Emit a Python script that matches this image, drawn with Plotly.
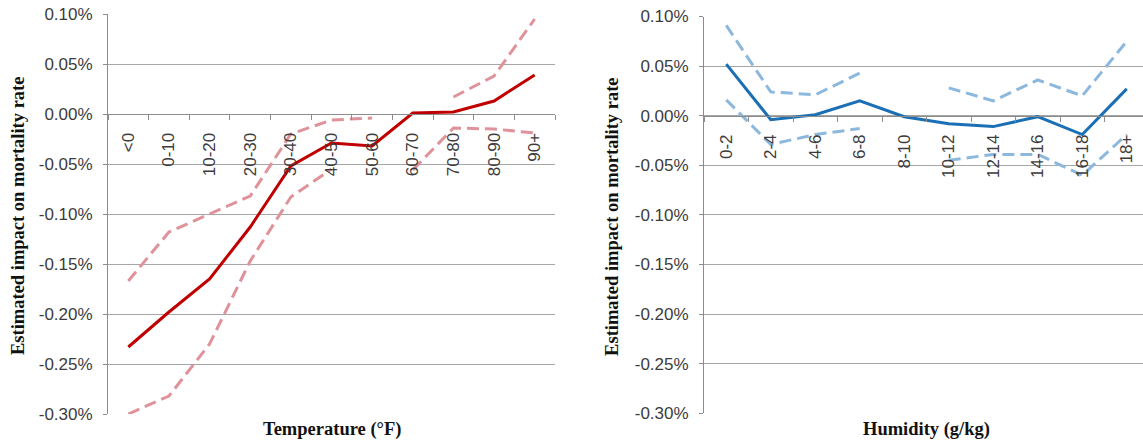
import plotly.graph_objects as go

W, H = 1143, 444

# ---------------- data ----------------
temp_cats = ["<0", "0-10", "10-20", "20-30", "30-40", "40-50", "50-60",
             "60-70", "70-80", "80-90", "90+"]
temp_est = [-0.233, -0.198, -0.165, -0.113, -0.052, -0.029, -0.032,
            0.001, 0.002, 0.013, 0.039]
temp_upper = [-0.167, -0.118, -0.100, -0.082, -0.020, -0.006, -0.004,
              None, 0.017, 0.038, 0.095]
temp_lower = [-0.300, -0.282, -0.230, -0.147, -0.083, -0.055, None,
              -0.056, -0.014, -0.015, -0.019]

hum_cats = ["0-2", "2-4", "4-6", "6-8", "8-10", "10-12", "12-14",
            "14-16", "16-18", "18+"]
hum_est = [0.052, -0.004, 0.001, 0.015, -0.001, -0.008, -0.011,
           -0.001, -0.019, 0.027]
hum_upper = [0.091, 0.024, 0.021, 0.043, None, 0.028, 0.015,
             0.036, 0.020, 0.075]
hum_lower = [0.016, -0.029, -0.019, -0.013, None, -0.045, -0.039,
             -0.039, -0.060, -0.019]

y_tickvals = [0.10, 0.05, 0.00, -0.05, -0.10, -0.15, -0.20, -0.25, -0.30]
y_ticktext = ["0.10%", "0.05%", "0.00%", "-0.05%", "-0.10%", "-0.15%",
              "-0.20%", "-0.25%", "-0.30%"]

y_title = "Estimated impact on mortality rate"
temp_title = "Temperature (\u00b0F)"
hum_title = "Humidity (g/kg)"

# ---------------- styles ----------------
RED = "#C00000"
RED_D = "#E0929A"
BLUE = "#1B6FB5"
BLUE_D = "#8DB8DE"
GRID = "#A6A6A6"
AXIS = "#8C8C8C"
TICKFONT = dict(family="Liberation Sans", size=17, color="#3C3C3C")
TITLEFONT = dict(family="Liberation Serif", size=18.5, color="#111111")
DASH = "12px,6px"

fig = go.Figure()

def add(x, y, color, dash, xa, ya):
    fig.add_trace(go.Scatter(
        x=x, y=y, mode="lines", xaxis=xa, yaxis=ya,
        line=dict(color=color, width=3, dash=dash),
        connectgaps=False, showlegend=False, hoverinfo="skip"))

add(temp_cats, temp_upper, RED_D, DASH, "x", "y")
add(temp_cats, temp_lower, RED_D, DASH, "x", "y")
add(temp_cats, temp_est, RED, "solid", "x", "y")
add(hum_cats, hum_upper, BLUE_D, DASH, "x2", "y2")
add(hum_cats, hum_lower, BLUE_D, DASH, "x2", "y2")
add(hum_cats, hum_est, BLUE, "solid", "x2", "y2")

# pixel geometry -> paper fractions
def fx(px):
    return px / W

def fy(py):
    return (H - py) / H

L1, R1 = 108, 555
T1, B1 = 14, 414
L2 = 704
CAT2 = 44.5
T2, B2 = 16.5, 413.3

def zero_pos(t, b):
    # y position (px) of value 0 in range [-0.30, 0.10]
    return t + (b - t) * 0.10 / 0.40

xcommon = dict(
    type="category", showgrid=False, showline=True, linecolor=AXIS,
    linewidth=1, ticks="outside", ticklen=5, tickcolor=AXIS,
    tickson="boundaries", tickangle=-90, tickfont=TICKFONT,
    ticklabelstandoff=11,
    anchor="free", automargin=False, zeroline=False, fixedrange=True)

ycommon = dict(
    range=[-0.30, 0.10], tickvals=y_tickvals, ticktext=y_ticktext,
    showgrid=True, gridcolor=GRID, gridwidth=1, showline=True,
    linecolor=AXIS, linewidth=1, ticks="outside", ticklen=4,
    tickcolor=AXIS, tickfont=TICKFONT, ticklabelstandoff=7,
    zeroline=False, automargin=False, fixedrange=True)

fig.update_layout(
    width=W, height=H, autosize=False,
    margin=dict(l=0, r=0, t=0, b=0, pad=0),
    paper_bgcolor="white", plot_bgcolor="white",
    xaxis=dict(xcommon, domain=[fx(L1), fx(R1)], range=[-0.5, 10.5],
               position=fy(zero_pos(T1, B1))),
    yaxis=dict(ycommon, domain=[fy(B1), fy(T1)], anchor="x"),
    xaxis2=dict(xcommon, domain=[fx(L2), 1.0],
                range=[-0.5, -0.5 + (W - L2) / CAT2],
                position=fy(zero_pos(T2, B2))),
    yaxis2=dict(ycommon, domain=[fy(B2), fy(T2)], anchor="x2"),
)

ann = [
    dict(text="<b>%s</b>" % y_title, x=fx(18), y=fy((T1 + B1) / 2 + 2),
         textangle=-90),
    dict(text="<b>%s</b>" % y_title, x=fx(612), y=fy((T2 + B2) / 2 + 2),
         textangle=-90),
    dict(text="<b>%s</b>" % temp_title, x=fx((L1 + R1) / 2), y=fy(429)),
    dict(text="<b>%s</b>" % hum_title, x=fx((L2 + L2 + 10 * CAT2) / 2),
         y=fy(429)),
]
for a in ann:
    fig.add_annotation(xref="paper", yref="paper", showarrow=False,
                       xanchor="center", yanchor="middle",
                       font=TITLEFONT, **a)

fig.write_html(
    "out.html",
    config={"displayModeBar": False, "staticPlot": True},
    post_script="document.body.style.margin='0';"
                "document.body.style.overflow='hidden';")
